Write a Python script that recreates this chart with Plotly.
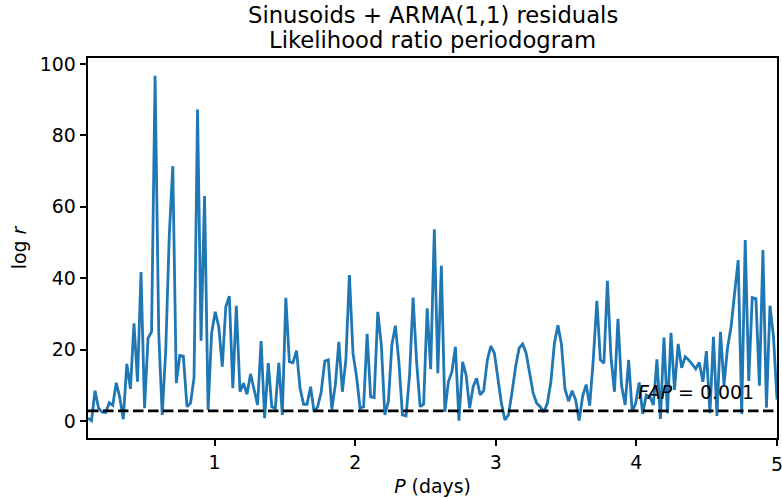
import plotly.graph_objects as go

# Period grid (days)
period = [
    0.100, 0.125, 0.150, 0.175, 0.201, 0.226, 0.251, 0.276, 0.301, 0.326,
    0.351, 0.376, 0.402, 0.427, 0.452, 0.477, 0.502, 0.527, 0.552, 0.577,
    0.603, 0.628, 0.653, 0.678, 0.703, 0.728, 0.753, 0.778, 0.804, 0.829,
    0.854, 0.879, 0.904, 0.929, 0.954, 0.979, 1.005, 1.030, 1.055, 1.080,
    1.105, 1.130, 1.155, 1.181, 1.206, 1.231, 1.256, 1.281, 1.306, 1.331,
    1.356, 1.382, 1.407, 1.432, 1.457, 1.482, 1.507, 1.532, 1.557, 1.583,
    1.608, 1.633, 1.658, 1.683, 1.708, 1.733, 1.758, 1.784, 1.809, 1.834,
    1.859, 1.884, 1.909, 1.934, 1.959, 1.985, 2.010, 2.035, 2.060, 2.085,
    2.110, 2.135, 2.161, 2.186, 2.211, 2.236, 2.261, 2.286, 2.311, 2.336,
    2.362, 2.387, 2.412, 2.437, 2.462, 2.487, 2.512, 2.537, 2.563, 2.588,
    2.613, 2.638, 2.663, 2.688, 2.713, 2.738, 2.764, 2.789, 2.814, 2.839,
    2.864, 2.889, 2.914, 2.940, 2.965, 2.990, 3.015, 3.040, 3.065, 3.090,
    3.115, 3.141, 3.166, 3.191, 3.216, 3.241, 3.266, 3.291, 3.316, 3.342,
    3.367, 3.392, 3.417, 3.442, 3.467, 3.492, 3.518, 3.543, 3.568, 3.593,
    3.618, 3.643, 3.668, 3.693, 3.719, 3.744, 3.769, 3.794, 3.819, 3.844,
    3.869, 3.894, 3.920, 3.945, 3.970, 3.995, 4.020, 4.045, 4.070, 4.096,
    4.121, 4.146, 4.171, 4.196, 4.221, 4.246, 4.271, 4.297, 4.322, 4.347,
    4.372, 4.397, 4.422, 4.447, 4.473, 4.498, 4.523, 4.548, 4.573, 4.598,
    4.623, 4.648, 4.674, 4.699, 4.724, 4.749, 4.774, 4.799, 4.824, 4.850,
    4.875, 4.900, 4.925, 4.950, 4.975, 5.000,
]

# log likelihood ratio values
log_r = [
    0.8, 0.1, 8.5, 3.6, 2.5, 2.4, 5.1, 4.4, 10.7, 6.6,
    0.5, 16.0, 9.0, 27.4, 11.0, 41.7, 3.6, 23.2, 25.0, 96.7,
    24.6, 1.7, 20.0, 52.0, 71.4, 10.6, 18.4, 18.2, 4.0, 5.0,
    12.1, 87.3, 22.5, 63.0, 3.1, 24.6, 30.6, 26.4, 15.2, 32.0,
    35.0, 9.2, 32.3, 8.2, 10.6, 7.5, 13.2, 8.7, 4.5, 22.4,
    0.8, 16.2, 4.0, 3.6, 16.3, 1.7, 34.5, 16.6, 16.3, 19.7,
    9.2, 4.7, 4.7, 9.6, 2.6, 4.0, 8.0, 16.8, 17.1, 3.3,
    10.1, 22.2, 8.2, 17.1, 40.9, 18.8, 12.4, 3.6, 4.0, 24.4,
    6.8, 6.6, 30.6, 21.3, 1.7, 5.4, 21.3, 26.7, 16.6, 1.7,
    1.4, 12.9, 34.6, 16.6, 4.0, 4.7, 31.6, 14.5, 53.7, 13.4,
    43.5, 2.6, 11.0, 13.8, 20.8, 0.1, 16.6, 12.9, 3.6, 9.6,
    12.0, 7.3, 8.5, 17.1, 21.0, 19.0, 11.5, 5.0, 0.3, 1.7,
    7.9, 15.2, 20.4, 21.6, 19.0, 13.4, 7.8, 5.0, 4.0, 2.5,
    5.0, 11.0, 21.8, 26.8, 21.5, 9.0, 5.5, 8.5, 5.9, 0.1,
    7.0, 10.2, 4.3, 17.0, 33.7, 17.1, 16.2, 39.3, 18.0, 8.2,
    28.6, 10.0, 4.5, 17.1, 2.6, 5.0, 10.8, 2.0, 7.3, 6.8,
    4.5, 17.3, 0.6, 23.4, 2.2, 24.7, 8.7, 21.6, 14.9, 18.0,
    17.1, 15.9, 14.6, 16.4, 11.0, 19.6, 2.2, 23.6, 1.4, 25.0,
    10.1, 20.4, 26.6, 36.0, 45.1, 2.0, 50.7, 11.2, 34.6, 34.3,
    9.9, 47.9, 3.7, 32.3, 23.6, 6.0,
]

fap_level = 2.85
fap_label_x = 4.0
fap_label_y = 4.6
x_ticks = [1, 2, 3, 4, 5]
y_ticks = [0, 20, 40, 60, 80, 100]
x_range = [0.1, 5.0]
y_range = [-4.76, 101.7]
title_lines = ["Sinusoids + ARMA(1,1) residuals", "Likelihood ratio periodogram"]

FONT = "DejaVu Sans"
TICK_SIZE = 18.9

fig = go.Figure()
fig.add_trace(go.Scatter(
    x=period, y=log_r, mode="lines",
    line=dict(color="#1f77b4", width=2.8),
    showlegend=False, hoverinfo="skip",
))
fig.add_trace(go.Scatter(
    x=x_range, y=[fap_level, fap_level], mode="lines",
    line=dict(color="black", width=2.8, dash="10.5px,4.5px"),
    showlegend=False, hoverinfo="skip",
))

fig.add_annotation(
    x=fap_label_x, y=fap_label_y, xref="x", yref="y",
    text="<i>FAP</i> = 0.001", showarrow=False,
    xanchor="left", yanchor="bottom",
    font=dict(family=FONT, size=TICK_SIZE, color="black"),
)

# Title lines (plot area spans 380 px vertically, top edge at 58 px)
for line_text, y_pos in zip(title_lines, [1 + 43 / 380, 1 + 18 / 380]):
    fig.add_annotation(
        x=0.5, y=y_pos, xref="paper", yref="paper",
        text=line_text, showarrow=False,
        xanchor="center", yanchor="middle",
        font=dict(family=FONT, size=22.7, color="black"),
    )

# Right-edge tick label (placed as text so it is not dropped at the edge)
fig.add_annotation(
    x=x_ticks[-1], y=-26 / 380, xref="x", yref="paper",
    text=str(x_ticks[-1]), showarrow=False,
    xanchor="center", yanchor="middle",
    font=dict(family=FONT, size=TICK_SIZE, color="black"),
)

axis_common = dict(
    showgrid=False, zeroline=False,
    showline=True, linecolor="black", linewidth=1.5, mirror=True,
    ticks="outside", ticklen=6.6, tickwidth=1.5, tickcolor="black",
    tickfont=dict(family=FONT, size=TICK_SIZE, color="black"),
)

fig.update_layout(
    width=782, height=499,
    margin=dict(l=88, r=3, t=58, b=61),
    paper_bgcolor="white", plot_bgcolor="white",
    font=dict(family=FONT, color="black"),
    xaxis=dict(
        range=x_range, tickvals=x_ticks,
        ticktext=[str(t) if t != x_ticks[-1] else "" for t in x_ticks],
        title=dict(text="<i>P</i> (days)", standoff=8,
                   font=dict(family=FONT, size=TICK_SIZE, color="black")),
        **axis_common,
    ),
    yaxis=dict(
        range=y_range, tickvals=y_ticks,
        title=dict(text="log <i>r</i>", standoff=8,
                   font=dict(family=FONT, size=TICK_SIZE, color="black")),
        **axis_common,
    ),
)

fig.write_html("out.html")
